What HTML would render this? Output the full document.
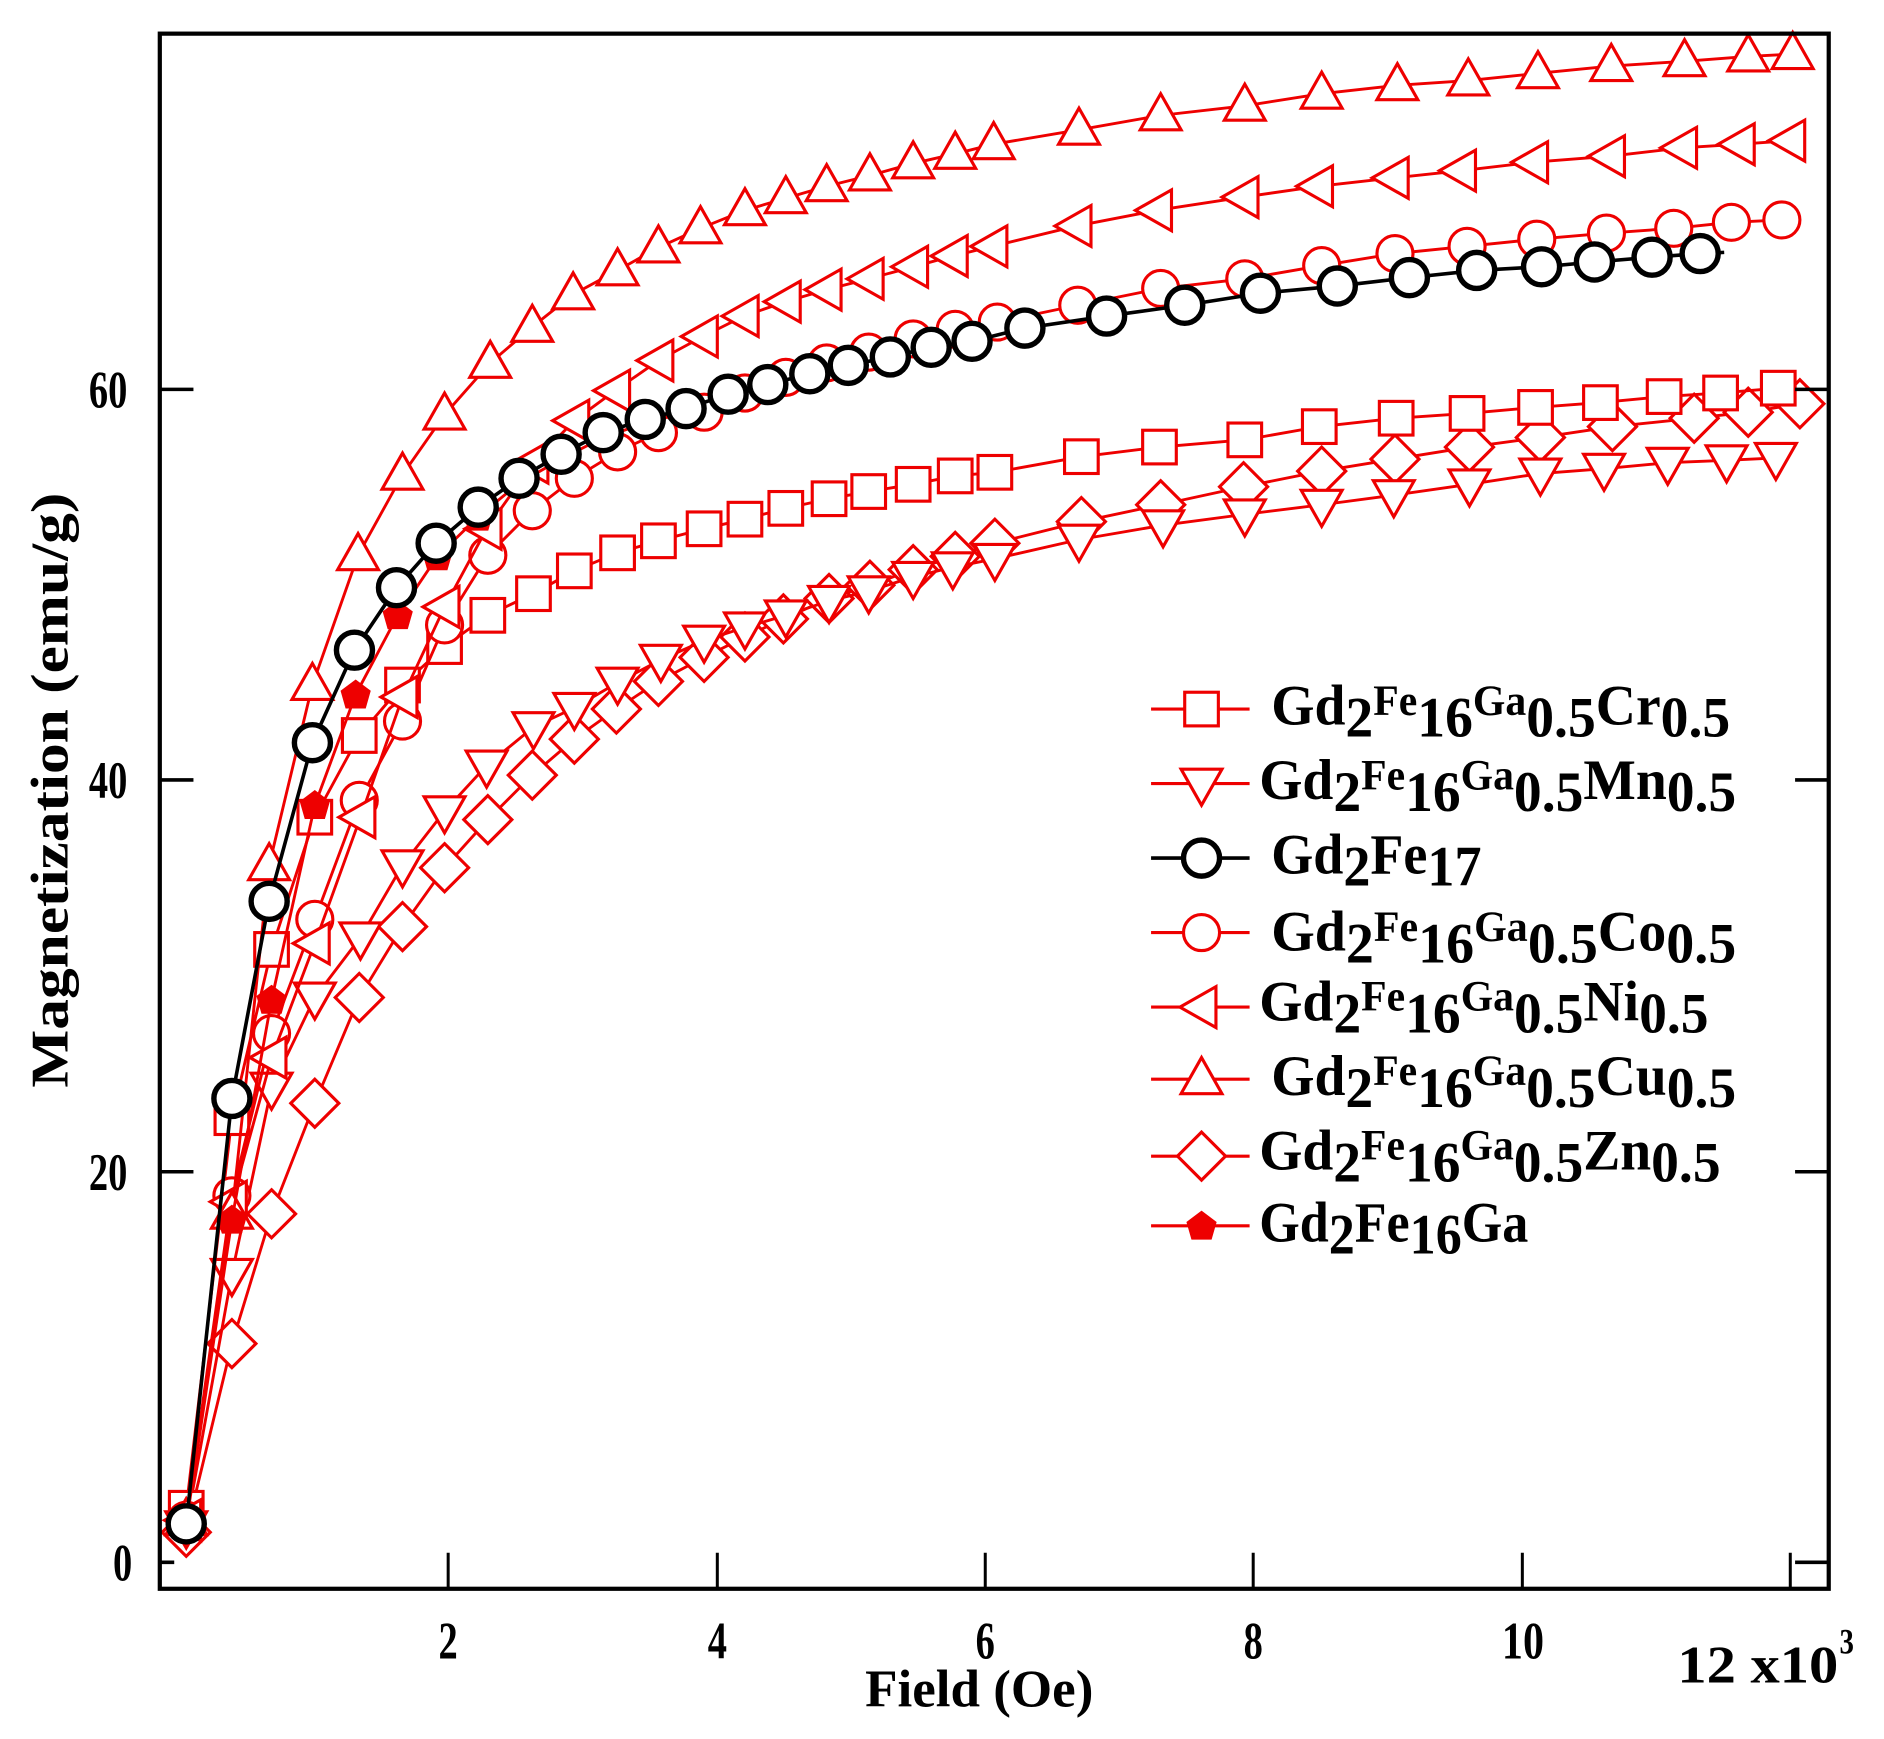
<!DOCTYPE html>
<html><head><meta charset="utf-8"><style>
html,body{margin:0;padding:0;background:#fff;}
svg{display:block;}
text{font-family:"Liberation Serif",serif;font-weight:bold;fill:#000;}
</style></head><body>
<svg id="s" width="1884" height="1739" viewBox="0 0 1568 1447" preserveAspectRatio="none" xmlns="http://www.w3.org/2000/svg">
<rect x="0" y="0" width="1568" height="1447" fill="#fff"/>
<g id="data"></g>
<g stroke="#000" stroke-width="3" fill="none">
<rect x="133" y="28" width="1389" height="1294" stroke-width="3.5"/>
<path d="M373 1322V1292M597 1322V1292M820 1322V1292M1043 1322V1292M1267 1322V1292M1490 1322V1292" stroke-width="2.5"/>
<path d="M133 1300H145M133 975H161M133 649H161M133 324H161M1522 1300H1494M1522 975H1494M1522 649H1494M1522 324H1494"/>
</g>
<g font-size="44">
<text x="94" y="1315" textLength="16" lengthAdjust="spacingAndGlyphs">0</text>
<text x="74" y="990" textLength="32" lengthAdjust="spacingAndGlyphs">20</text>
<text x="74" y="664" textLength="32" lengthAdjust="spacingAndGlyphs">40</text>
<text x="74" y="339" textLength="32" lengthAdjust="spacingAndGlyphs">60</text>
<text x="365" y="1380" textLength="16" lengthAdjust="spacingAndGlyphs">2</text>
<text x="589" y="1380" textLength="16" lengthAdjust="spacingAndGlyphs">4</text>
<text x="812" y="1380" textLength="16" lengthAdjust="spacingAndGlyphs">6</text>
<text x="1035" y="1380" textLength="16" lengthAdjust="spacingAndGlyphs">8</text>
<text x="1250" y="1380" textLength="35" lengthAdjust="spacingAndGlyphs">10</text>
<text x="1396" y="1400" textLength="134" lengthAdjust="spacingAndGlyphs">12 x10</text>
<text x="1531" y="1376" font-size="30" textLength="12" lengthAdjust="spacingAndGlyphs">3</text>
<text x="720" y="1420" textLength="190" lengthAdjust="spacingAndGlyphs">Field (Oe)</text>
<text transform="translate(56,905) rotate(-90)" textLength="495" lengthAdjust="spacingAndGlyphs">Magnetization (emu/g)</text>
</g>
<g id="leg"></g>
<g font-size="48">
<text x="1058" y="603" textLength="382" lengthAdjust="spacingAndGlyphs">Gd<tspan dy="10">2</tspan><tspan dy="-18" font-size="36">Fe</tspan><tspan dy="18">16</tspan><tspan dy="-18" font-size="36">Ga</tspan><tspan dy="18">0.5</tspan><tspan dy="-10">Cr</tspan><tspan dy="10">0.5</tspan></text>
<text x="1048" y="665" textLength="397" lengthAdjust="spacingAndGlyphs">Gd<tspan dy="10">2</tspan><tspan dy="-18" font-size="36">Fe</tspan><tspan dy="18">16</tspan><tspan dy="-18" font-size="36">Ga</tspan><tspan dy="18">0.5</tspan><tspan dy="-10">Mn</tspan><tspan dy="10">0.5</tspan></text>
<text x="1058" y="727" textLength="175" lengthAdjust="spacingAndGlyphs">Gd<tspan dy="10">2</tspan><tspan dy="-10">Fe</tspan><tspan dy="10">17</tspan></text>
<text x="1058" y="791" textLength="387" lengthAdjust="spacingAndGlyphs">Gd<tspan dy="10">2</tspan><tspan dy="-18" font-size="36">Fe</tspan><tspan dy="18">16</tspan><tspan dy="-18" font-size="36">Ga</tspan><tspan dy="18">0.5</tspan><tspan dy="-10">Co</tspan><tspan dy="10">0.5</tspan></text>
<text x="1048" y="849" textLength="374" lengthAdjust="spacingAndGlyphs">Gd<tspan dy="10">2</tspan><tspan dy="-18" font-size="36">Fe</tspan><tspan dy="18">16</tspan><tspan dy="-18" font-size="36">Ga</tspan><tspan dy="18">0.5</tspan><tspan dy="-10">Ni</tspan><tspan dy="10">0.5</tspan></text>
<text x="1058" y="911" textLength="387" lengthAdjust="spacingAndGlyphs">Gd<tspan dy="10">2</tspan><tspan dy="-18" font-size="36">Fe</tspan><tspan dy="18">16</tspan><tspan dy="-18" font-size="36">Ga</tspan><tspan dy="18">0.5</tspan><tspan dy="-10">Cu</tspan><tspan dy="10">0.5</tspan></text>
<text x="1048" y="973" textLength="384" lengthAdjust="spacingAndGlyphs">Gd<tspan dy="10">2</tspan><tspan dy="-18" font-size="36">Fe</tspan><tspan dy="18">16</tspan><tspan dy="-18" font-size="36">Ga</tspan><tspan dy="18">0.5</tspan><tspan dy="-10">Zn</tspan><tspan dy="10">0.5</tspan></text>
<text x="1048" y="1033" textLength="224" lengthAdjust="spacingAndGlyphs">Gd<tspan dy="10">2</tspan><tspan dy="-10">Fe</tspan><tspan dy="10">16</tspan><tspan dy="-10">Ga</tspan></text>
</g>
</svg>
<script>
var NS="http://www.w3.org/2000/svg";
function P(s){var a=s.trim().split(/\s+/).map(Number),r=[];for(var i=0;i<a.length;i+=2)r.push([a[i],a[i+1]]);return r;}
var S={
zn:P("155 1275 193 1118 226 1010 262 918 299 830 335 771 370 722 406 682 443 645 478 615 513 590 548 567 586 547 620 530 652 515 690 498 724 487 760 474 795 463 828 452 900 434 966 420 1035 405 1100 392 1161 382 1223 372 1282 364 1342 355 1410 348 1455 343 1498 336"),
mn:P("155 1270 193 1060 226 905 262 830 300 780 335 720 370 675 405 637 444 605 478 589 514 568 550 549 586 533 620 522 654 512 690 500 723 492 760 480 793 472 828 465 898 449 968 437 1036 428 1100 420 1160 412 1223 403 1282 394 1335 390 1388 385 1437 383 1478 381"),
cr:P("155 1255 193 930 226 790 262 680 299 612 335 570 370 538 406 512 444 494 478 475 514 460 548 450 586 440 620 432 654 423 690 415 723 409 760 403 795 396 828 393 900 380 965 372 1036 366 1098 355 1162 348 1221 344 1278 339 1332 335 1385 330 1432 327 1480 323"),
co:P("155 1265 193 995 226 860 262 765 299 666 335 600 370 520 406 462 443 425 478 398 514 376 548 360 586 343 620 327 654 314 688 302 723 293 760 282 795 274 830 268 897 254 966 240 1036 232 1100 221 1161 211 1221 205 1279 199 1337 194 1393 190 1441 185 1483 183"),
ni:P("155 1265 193 1000 226 880 262 785 300 680 335 580 370 505 405 440 444 385 478 350 512 325 548 300 585 280 619 263 654 251 688 241 723 232 760 222 793 213 826 205 896 188 963 175 1035 164 1097 155 1160 148 1216 142 1276 135 1340 130 1400 123 1448 120 1490 117"),
cu:P("155 1265 193 1010 224 720 260 570 298 462 335 395 370 345 408 302 443 272 477 245 514 225 548 206 583 190 620 175 654 165 688 155 724 146 760 136 795 128 827 120 898 108 966 96 1036 88 1100 78 1163 71 1222 67 1280 61 1341 55 1402 51 1455 47 1492 45"),
ga:P("155 1268 193 1015 226 832 262 670 296 578 331 512 364 463 398 430 432 402 467 382 502 364 537 352 571 343"),
bk:P("155 1268 193 914 224 750 260 618 295 541 330 489 363 452 398 422 432 398 467 378 502 360 537 349 571 340 606 328 639 320 674 311 706 304 741 297 775 289 809 284 853 273 921 263 986 254 1049 244 1113 238 1173 231 1229 225 1283 222 1327 218 1375 214 1415 211 1435 210")
};
function el(t,a,p){var e=document.createElementNS(NS,t);for(var k in a)e.setAttribute(k,a[k]);p.appendChild(e);return e;}
function marker(type,x,y,p,col){
 var st={stroke:col,"stroke-width":2.6,fill:"#fff"};
 var r=15;
 if(type=="sq"){st.x=x-14;st.y=y-14;st.width=28;st.height=28;el("rect",st,p);}
 else if(type=="ci"){st.cx=x;st.cy=y;st.r=r;if(col=="#000"){st["stroke-width"]=4.5;}el("circle",st,p);}
 else if(type=="dn"){st.points=(x-17)+","+(y-12)+" "+(x+17)+","+(y-12)+" "+x+","+(y+18);el("polygon",st,p);}
 else if(type=="up"){st.points=(x-17)+","+(y+12)+" "+(x+17)+","+(y+12)+" "+x+","+(y-18);el("polygon",st,p);}
 else if(type=="lt"){st.points=(x+12)+","+(y-17)+" "+(x+12)+","+(y+17)+" "+(x-18)+","+y;el("polygon",st,p);}
 else if(type=="di"){st.points=x+","+(y-20)+" "+(x+20)+","+y+" "+x+","+(y+20)+" "+(x-20)+","+y;el("polygon",st,p);}
 else if(type=="pe"){st.fill=col;st["stroke-width"]=1;st.points=x+","+(y-12)+" "+(x+12)+","+(y-3)+" "+(x+8)+","+(y+11)+" "+(x-8)+","+(y+11)+" "+(x-12)+","+(y-3);el("polygon",st,p);}
}
var order=[["zn","di","#e00"],["mn","dn","#e00"],["cr","sq","#e00"],["co","ci","#e00"],["ni","lt","#e00"],["cu","up","#e00"],["ga","pe","#e00"],["bk","ci","#000"]];
var D=document.getElementById("data");
order.forEach(function(o){
 var pts=S[o[0]],g=el("g",{},D);
 el("polyline",{points:pts.map(function(p){return p.join(",")}).join(" "),fill:"none",stroke:o[2],"stroke-width":o[2]=="#000"?3:2.4},g);
 pts.forEach(function(p,i){if(o[0]=="bk"&&i==pts.length-1)return;marker(o[1],p[0],p[1],g,o[2]);});
});
var L=document.getElementById("leg");
[["sq",590],["dn",652],["ci",714,"#000"],["ci",776],["lt",838],["up",898],["di",962],["pe",1020]].forEach(function(l){
 var c=l[2]||"#e00";
 el("line",{x1:958,x2:1040,y1:l[1],y2:l[1],stroke:c,"stroke-width":c=="#000"?3:2.6},L);
 marker(l[0],1000,l[1],L,c);
});
</script>
</body></html>
